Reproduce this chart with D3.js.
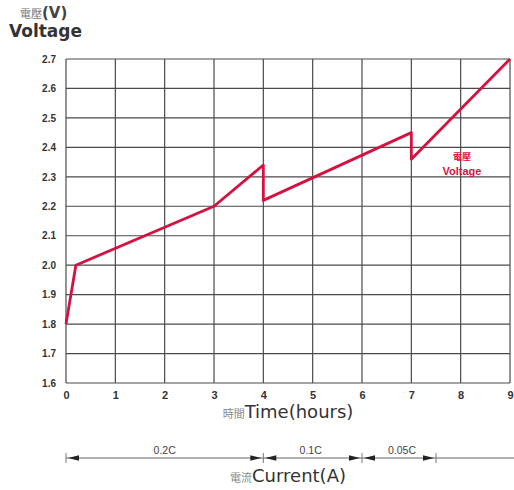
<!DOCTYPE html>
<html><head><meta charset="utf-8">
<script src="https://cdn.jsdelivr.net/npm/d3@7"></script>
<style>body{margin:0;background:#fff}svg{display:block}</style>
</head><body>
<script>
const timeTicks = [0,1,2,3,4,5,6,7,8,9];
const voltTicks = [1.6,1.7,1.8,1.9,2.0,2.1,2.2,2.3,2.4,2.5,2.6,2.7];
const voltLabels = ["1.6","1.7","1.8","1.9","2.0","2.1","2.2","2.3","2.4","2.5","2.6","2.7"];
const seriesTime = [0, 0.2, 3, 4, 4, 7, 7, 9];
const seriesVolt = [1.80, 2.00, 2.20, 2.34, 2.22, 2.45, 2.36, 2.70];
const currentStarts = [0, 4, 6];
const currentEnds = [4, 6, 7.5];
const currentLabels = ["0.2C", "0.1C", "0.05C"];

const W = 514, H = 490;
const svg = d3.select("body").append("svg").attr("width", W).attr("height", H);
const x = d3.scaleLinear().domain([0, 9]).range([66, 510]);
const y = d3.scaleLinear().domain([1.6, 2.7]).range([383, 59]);
const font = "'Liberation Sans', Arial, sans-serif";
const wide = "'DejaVu Sans', sans-serif";
const cjk = "'Noto Sans CJK TC', sans-serif";

// grid
const g = svg.append("g");
g.selectAll("line.v").data(timeTicks).join("line")
  .attr("x1", d => x(d)).attr("x2", d => x(d)).attr("y1", y(2.7)).attr("y2", y(1.6))
  .attr("stroke", "#4a4a4a").attr("stroke-width", 1.2);
g.selectAll("line.h").data(voltTicks).join("line")
  .attr("x1", x(0)).attr("x2", x(9)).attr("y1", d => y(d)).attr("y2", d => y(d))
  .attr("stroke", "#4a4a4a").attr("stroke-width", 1.2);

// axes labels
const yAxis = d3.axisLeft(y).tickValues(voltTicks).tickFormat((d, i) => voltLabels[i]).tickSize(0).tickPadding(10);
const ya = svg.append("g").attr("transform", `translate(${x(0)},0)`).call(yAxis);
ya.select(".domain").remove();
ya.selectAll("text").attr("font-family", font).attr("font-size", 10).attr("font-weight", "bold").attr("fill", "#333");

const xAxis = d3.axisBottom(x).tickValues(timeTicks).tickFormat(d3.format("d")).tickSize(0).tickPadding(8);
const xa = svg.append("g").attr("transform", `translate(0,${y(1.6)})`).call(xAxis);
xa.select(".domain").remove();
xa.selectAll("text").attr("font-family", font).attr("font-size", 11).attr("font-weight", "bold").attr("fill", "#333");

// series line
const pts = seriesTime.map((t, i) => [t, seriesVolt[i]]);
svg.append("path").datum(pts)
  .attr("d", d3.line().x(d => x(d[0])).y(d => y(d[1])))
  .attr("fill", "none").attr("stroke", "#d41240").attr("stroke-width", 2.8).attr("stroke-linejoin", "round");

// annotation
svg.append("text").attr("x", 462).attr("y", 160).attr("text-anchor", "middle")
  .attr("font-family", cjk).attr("font-size", 9).attr("font-weight", "bold").attr("fill", "#d41240").text("電壓");
svg.append("text").attr("x", 462).attr("y", 175).attr("text-anchor", "middle")
  .attr("font-family", font).attr("font-size", 11).attr("font-weight", "bold").attr("fill", "#d41240").text("Voltage");

// titles
const t1 = svg.append("text").attr("x", 20).attr("y", 18).attr("font-size", 15).attr("fill", "#444");
t1.append("tspan").attr("font-family", cjk).attr("font-size", 11).attr("fill", "#777").text("電壓");
t1.append("tspan").attr("font-family", wide).attr("font-weight", "bold").text("(V)");
svg.append("text").attr("x", 9).attr("y", 37).attr("font-family", wide).attr("font-size", 17)
  .attr("font-weight", "bold").attr("fill", "#333").text("Voltage");

const t2 = svg.append("text").attr("x", 288).attr("y", 418).attr("text-anchor", "middle").attr("fill", "#333");
t2.append("tspan").attr("font-family", cjk).attr("font-size", 11).attr("fill", "#888").text("時間");
t2.append("tspan").attr("font-family", wide).attr("font-size", 18).text("Time(hours)");

const t3 = svg.append("text").attr("x", 288).attr("y", 482).attr("text-anchor", "middle").attr("fill", "#333");
t3.append("tspan").attr("font-family", cjk).attr("font-size", 11).attr("fill", "#888").text("電流");
t3.append("tspan").attr("font-family", wide).attr("font-size", 18).text("Current(A)");

// current dimension line
const cy = 458;
svg.append("line").attr("x1", x(0)).attr("x2", W).attr("y1", cy).attr("y2", cy)
  .attr("stroke", "#666").attr("stroke-width", 1.2);
const ticksC = Array.from(new Set(currentStarts.concat(currentEnds)));
svg.selectAll("line.ct").data(ticksC).join("line")
  .attr("x1", d => x(d)).attr("x2", d => x(d)).attr("y1", cy - 5).attr("y2", cy + 5)
  .attr("stroke", "#777").attr("stroke-width", 1);
const arrows = [];
currentStarts.forEach((s, i) => {
  arrows.push({tip: x(s), dir: -1});
  arrows.push({tip: x(currentEnds[i]), dir: 1});
});
svg.selectAll("path.ar").data(arrows).join("path")
  .attr("d", d => `M${d.tip - d.dir * 2},${cy} L${d.tip - d.dir * 13},${cy - 2.8} L${d.tip - d.dir * 13},${cy + 2.8} Z`)
  .attr("fill", "#222");
svg.selectAll("text.cl").data(currentLabels).join("text")
  .attr("x", (d, i) => i === 2 ? x(currentStarts[i]) + 40 : (x(currentStarts[i]) + x(currentEnds[i])) / 2 - (i === 0 ? 0 : 2))
  .attr("y", cy - 4).attr("text-anchor", "middle")
  .attr("font-family", font).attr("font-size", 10.5).attr("fill", "#444").text(d => d);
</script>
</body></html>
